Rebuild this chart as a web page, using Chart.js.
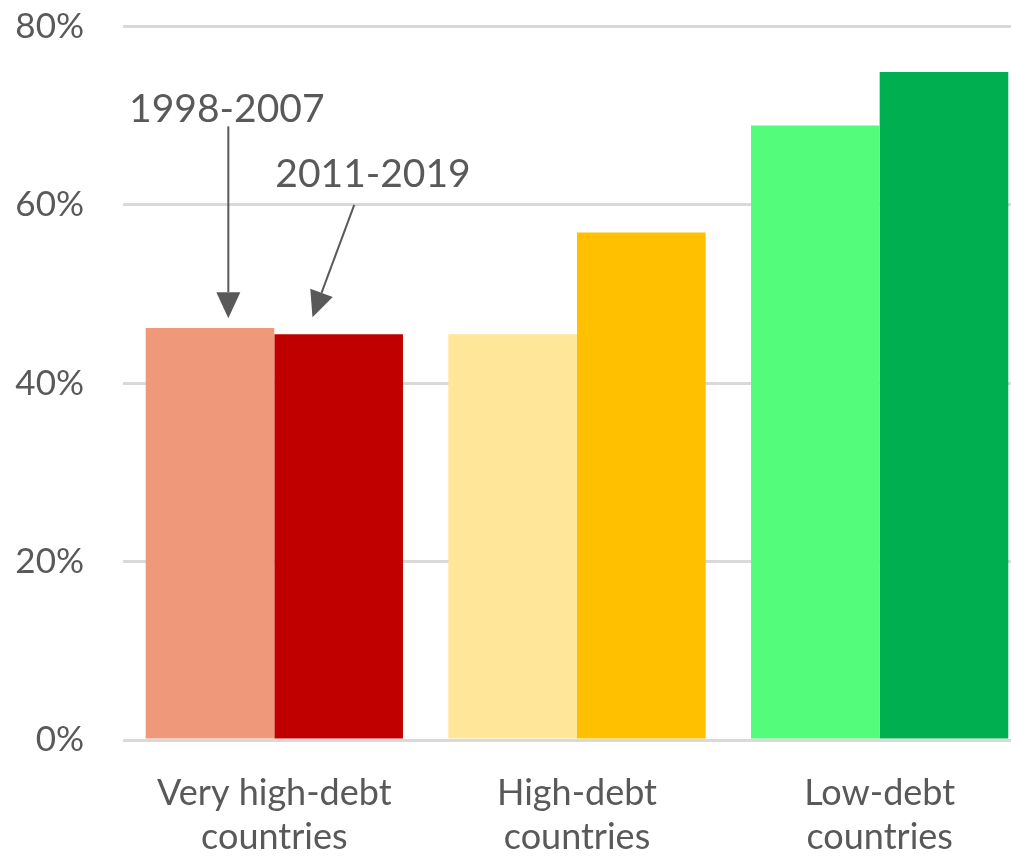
<!DOCTYPE html>
<html>
<head>
<meta charset="utf-8">
<script src="https://cdn.jsdelivr.net/npm/chart.js@4/dist/chart.umd.min.js"></script>
<style>
  html, body { margin: 0; padding: 0; background: #ffffff; overflow: hidden; }
  #wrap { position: relative; width: 1031px; height: 856px; }
</style>
</head>
<body>
<div id="wrap"><canvas id="c" width="1031" height="856"></canvas></div>
<script>
// Country groups (two-line axis labels)
const categories = [
  ["Very high-debt", "countries"],
  ["High-debt", "countries"],
  ["Low-debt", "countries"]
];
// Periods compared within each group
const periods = ["1998-2007", "2011-2019"];
// Share (%) per group, earlier and later period
const earlyValues = [46.2, 45.5, 68.9];
const lateValues = [45.5, 56.9, 74.9];
// Y-axis tick values (%)
const yTickValues = [0, 20, 40, 60, 80];

const earlyColors = ["#F0997A", "#FFE699", "#53FC7A"];
const lateColors = ["#C00000", "#FFC000", "#00B050"];
const TEXT = "#595959";
const FONT = "Lato, 'Open Sans', sans-serif";

// Callouts naming the two periods; x in category units (0 = first group centre), y in %
const callouts = [
  { label: periods[0], textX: -0.157, textY: 69.3, fromX: -0.152, fromY: 68.8, toX: -0.152, toY: 47.3 },
  { label: periods[1], textX: 0.326, textY: 62.0, fromX: 0.264, fromY: 60.0, toX: 0.126, toY: 47.4 }
];

const calloutPlugin = {
  id: "callouts",
  afterDatasetsDraw(chart) {
    const { ctx, scales: { x, y } } = chart;
    const x0 = x.getPixelForValue(0);
    const step = x.getPixelForValue(1) - x0;
    const px = u => x0 + u * step;
    ctx.save();
    ctx.fillStyle = TEXT;
    ctx.strokeStyle = TEXT;
    ctx.font = "39px " + FONT;
    ctx.textAlign = "center";
    ctx.textBaseline = "alphabetic";
    callouts.forEach(c => {
      ctx.fillText(c.label, px(c.textX), y.getPixelForValue(c.textY));
      const sx = px(c.fromX), sy = y.getPixelForValue(c.fromY);
      const ex = px(c.toX), ey = y.getPixelForValue(c.toY);
      const ang = Math.atan2(ey - sy, ex - sx);
      const headLen = 26, headHalf = 12;
      const bx = ex - headLen * Math.cos(ang), by = ey - headLen * Math.sin(ang);
      ctx.lineWidth = 2;
      ctx.beginPath();
      ctx.moveTo(sx, sy);
      ctx.lineTo(bx, by);
      ctx.stroke();
      ctx.beginPath();
      ctx.moveTo(ex, ey);
      ctx.lineTo(bx + headHalf * Math.sin(ang), by - headHalf * Math.cos(ang));
      ctx.lineTo(bx - headHalf * Math.sin(ang), by + headHalf * Math.cos(ang));
      ctx.closePath();
      ctx.fill();
    });
    ctx.restore();
  }
};

new Chart(document.getElementById("c"), {
  type: "bar",
  data: {
    labels: categories,
    datasets: [
      { label: periods[0], data: earlyValues, backgroundColor: earlyColors, borderWidth: 0 },
      { label: periods[1], data: lateValues, backgroundColor: lateColors, borderWidth: 0 }
    ]
  },
  options: {
    responsive: false,
    animation: false,
    devicePixelRatio: 1,
    layout: { padding: { top: 26.5, left: 0, right: 0, bottom: 0 } },
    datasets: { bar: { categoryPercentage: 0.85, barPercentage: 1.0 } },
    plugins: { legend: { display: false }, tooltip: { enabled: false } },
    scales: {
      x: {
        grid: { display: false, drawTicks: false },
        border: { display: false },
        ticks: {
          color: TEXT,
          font: { family: FONT, size: 36, lineHeight: "44px" },
          padding: 31,
          maxRotation: 0,
          autoSkip: false
        },
        afterFit(scale) { scale.height = 116; }
      },
      y: {
        min: 0,
        max: 80,
        afterBuildTicks(scale) { scale.ticks = yTickValues.map(v => ({ value: v })); },
        grid: { color: "#D9D9D9", lineWidth: 3, drawTicks: false },
        border: { display: false },
        ticks: {
          color: TEXT,
          font: { family: FONT, size: 35 },
          padding: 39,
          callback: v => v + "%"
        },
        afterFit(scale) {
          scale.width = 123;
          scale.paddingTop = 0;
          scale.paddingBottom = 0;
        }
      }
    }
  },
  plugins: [calloutPlugin]
});
</script>
</body>
</html>
